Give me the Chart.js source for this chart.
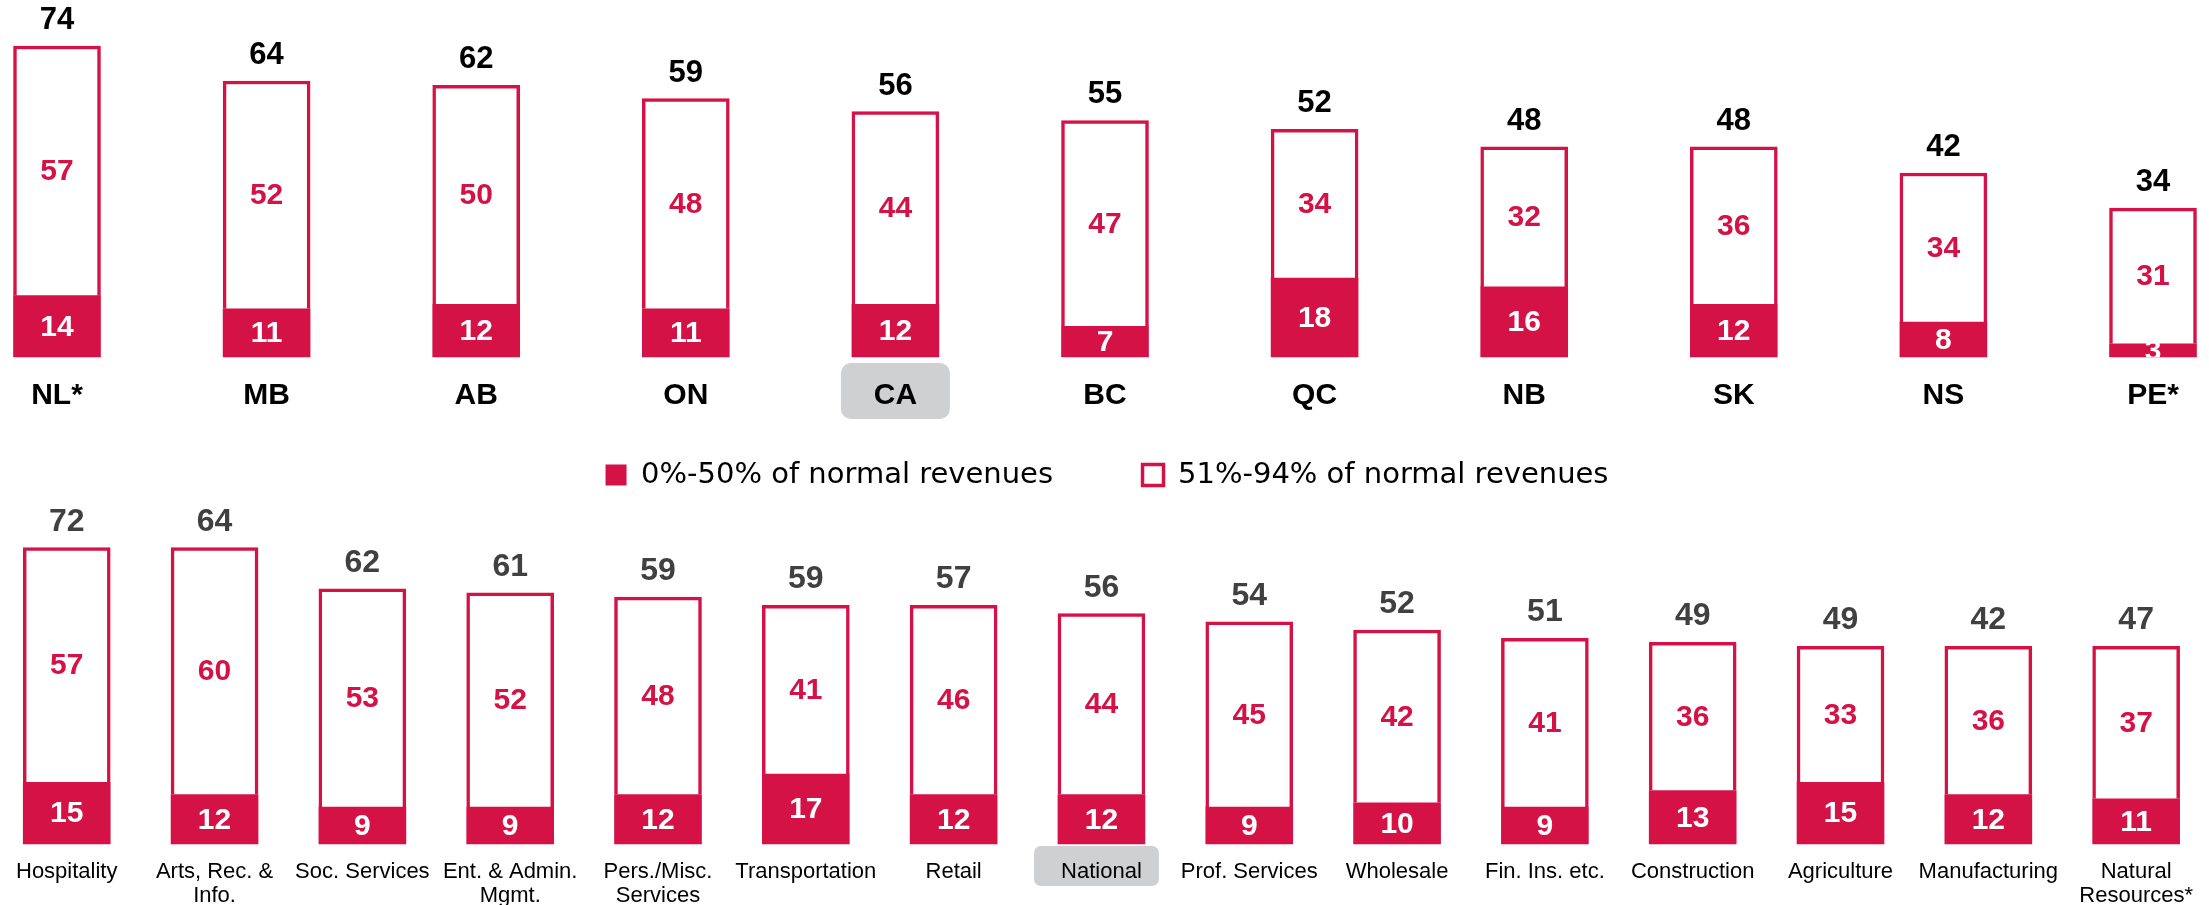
<!DOCTYPE html>
<html>
<head>
<meta charset="utf-8">
<title>Businesses below normal revenues</title>
<script src="https://cdn.jsdelivr.net/npm/chart.js"></script>
<style>
  html, body { margin: 0; padding: 0; background: #ffffff; }
  body { width: 2209px; height: 905px; position: relative; overflow: hidden; }
  canvas { position: absolute; left: 0; }
  #provChart { top: 0; }
  #sectorChart { top: 371px; }
</style>
</head>
<body>
<canvas id="provChart" width="2209" height="440"></canvas>
<canvas id="sectorChart" width="2209" height="534"></canvas>
<script>
const seriesNames = ['0%-50% of normal revenues', '51%-94% of normal revenues'];

// top panel: provinces
const provinces = ['NL*', 'MB', 'AB', 'ON', 'CA', 'BC', 'QC', 'NB', 'SK', 'NS', 'PE*'];
const provLow = [14, 11, 12, 11, 12, 7, 18, 16, 12, 8, 3];
const provMid = [57, 52, 50, 48, 44, 47, 34, 32, 36, 34, 31];
const provTotal = [74, 64, 62, 59, 56, 55, 52, 48, 48, 42, 34];

// bottom panel: industries
const sectors = ['Hospitality', ['Arts, Rec. &', 'Info.'], 'Soc. Services', ['Ent. & Admin.', 'Mgmt.'],
  ['Pers./Misc.', 'Services'], 'Transportation', 'Retail', 'National', 'Prof. Services', 'Wholesale',
  'Fin. Ins. etc.', 'Construction', 'Agriculture', 'Manufacturing', ['Natural', 'Resources*']];
const sectorLow = [15, 12, 9, 9, 12, 17, 12, 12, 9, 10, 9, 13, 15, 12, 11];
const sectorMid = [57, 60, 53, 52, 48, 41, 46, 44, 45, 42, 41, 36, 33, 36, 37];
const sectorTotal = [72, 64, 62, 61, 59, 59, 57, 56, 54, 52, 51, 49, 49, 42, 47];

const red = '#d41246';

// numbers inside the segments + totals above the bars
const valueLabels = {
  id: 'valueLabels',
  afterDatasetsDraw(chart, args, opts) {
    const ctx = chart.ctx;
    const area = chart.chartArea;
    ctx.save();
    ctx.beginPath();
    ctx.rect(0, area.top, chart.width, area.bottom - area.top);
    ctx.clip();
    ctx.font = opts.font;
    ctx.textAlign = 'center';
    ctx.textBaseline = 'middle';
    chart.data.datasets.forEach((ds, d) => {
      chart.getDatasetMeta(d).data.forEach((bar, i) => {
        ctx.fillStyle = d == 0 ? '#ffffff' : red;
        ctx.fillText(ds.data[i], bar.x, (bar.y + bar.base) / 2 + 1);
      });
    });
    ctx.restore();

    const topBars = chart.getDatasetMeta(1).data;
    ctx.save();
    ctx.font = opts.totalFont;
    ctx.fillStyle = opts.totalColor;
    ctx.textAlign = 'center';
    ctx.textBaseline = 'alphabetic';
    opts.totals.forEach((t, i) => {
      ctx.fillText(t, topBars[i].x, topBars[i].y - 17);
    });
    ctx.restore();
  }
};

// grey rounded box behind the "all" category label
const tickBox = {
  id: 'tickBox',
  beforeDraw(chart, args, opts) {
    const x = chart.scales.x;
    const ctx = chart.ctx;
    const cx = x.getPixelForValue(opts.index) + opts.dx;
    ctx.save();
    ctx.fillStyle = '#cfd0d2';
    ctx.beginPath();
    ctx.roundRect(cx - opts.width / 2, x.top + opts.top, opts.width, opts.height, opts.radius);
    ctx.fill();
    ctx.restore();
  }
};

function renderChart(canvasId, labels, low, mid, setup) {
  const datasets = [
    { label: seriesNames[0], data: low, backgroundColor: red, borderColor: red, borderWidth: 0 },
    { label: seriesNames[1], data: mid, backgroundColor: '#ffffff', borderColor: red, borderWidth: 3.5 }
  ];
  datasets.forEach(ds => { ds.barThickness = 87; ds.clip = false; });

  return new Chart(document.getElementById(canvasId), {
    type: 'bar',
    data: { labels: labels, datasets: datasets },
    options: {
      responsive: false,
      animation: false,
      devicePixelRatio: 1,
      layout: { padding: { left: setup.left, right: setup.right, top: 0, bottom: 0 } },
      scales: {
        x: {
          stacked: true,
          offset: false,
          grid: { display: false, drawTicks: false },
          border: { display: false },
          ticks: {
            autoSkip: false, maxRotation: 0, minRotation: 0,
            padding: setup.tickPadding,
            color: '#000000',
            font: setup.tickFont
          },
          afterFit: (scale) => { scale.height = setup.axisHeight; }
        },
        y: { stacked: true, display: false, min: 0, max: setup.yMax }
      },
      plugins: {
        legend: setup.legend,
        tooltip: { enabled: false },
        valueLabels: {
          font: 'bold 30px "Liberation Sans"',
          totalFont: setup.totalFont,
          totalColor: setup.totalColor,
          totals: setup.totals
        },
        tickBox: setup.box
      }
    },
    plugins: [valueLabels, tickBox]
  });
}

renderChart('provChart', provinces, provLow, provMid, {
  left: 57, right: 56,
  yMax: 81.5,
  axisHeight: 83,
  tickPadding: 21,
  tickFont: { family: 'Liberation Sans', size: 30, weight: 'bold' },
  totals: provTotal,
  totalFont: 'bold 31px "Liberation Sans"',
  totalColor: '#000000',
  legend: { display: false },
  box: { index: provinces.indexOf('CA'), dx: 0, top: 6, width: 109, height: 56, radius: 10 }
});

renderChart('sectorChart', sectors, sectorLow, sectorMid, {
  left: 63, right: 58,
  yMax: 83.7,
  axisHeight: 61,
  tickPadding: 16,
  tickFont: { family: 'Liberation Sans', size: 22, lineHeight: 1.1 },
  totals: sectorTotal,
  totalFont: 'bold 32px "Liberation Sans"',
  totalColor: '#404040',
  legend: {
    display: true,
    position: 'top',
    labels: {
      boxWidth: 21, boxHeight: 21, padding: 89.5,
      color: '#000000',
      font: { family: 'DejaVu Sans', size: 29 }
    }
  },
  box: { index: sectors.indexOf('National'), dx: -5, top: 2, width: 125, height: 40, radius: 7 }
});
</script>
</body>
</html>
